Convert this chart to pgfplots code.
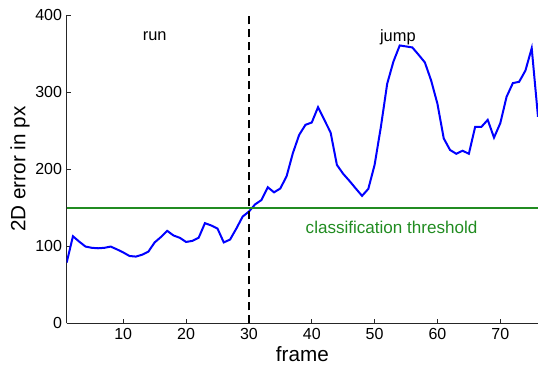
\documentclass[border=0pt]{standalone}
\usepackage{pgfplots}
\pgfplotsset{compat=1.18}
\usepackage{fontspec}
\setmainfont{Liberation Sans}
\definecolor{mgreen}{rgb}{0.13,0.55,0.13}
\begin{document}
\begin{tikzpicture}
\useasboundingbox (-50pt,-30.5pt) rectangle (353.5pt,242.5pt);
\begin{axis}[
  scale only axis,
  width=353.5pt, height=231.2pt,
  xmin=1, xmax=76, ymin=0, ymax=400,
  axis lines=left,
  axis line style={-, black!85, line width=0.6pt},
  tick style={black!85, line width=0.6pt},
  tick align=inside,
  major tick length=3pt,
  xtick={10,20,...,70},
  ytick={0,100,200,300,400},
  tick label style={font=\fontsize{12}{14}\selectfont},
  /pgf/number format/assume math mode=true,
  xlabel={frame},
  ylabel={2D error in px},
  every axis x label/.style={at={(axis description cs:0.5,0)}, anchor=base, yshift=-28.6pt, font=\fontsize{15.5}{18}\selectfont},
  every axis y label/.style={at={(axis description cs:0,0.5)}, xshift=-35pt, rotate=90, anchor=center, font=\fontsize{15.5}{18}\selectfont},
  clip=true,
]
\addplot[blue, line width=1.5pt] coordinates {
(1,78.8) (2,113) (3,106) (4,99.6) (5,98) (6,97.4) (7,98) (8,99.6) (9,96) (10,92)
(11,87.4) (12,86.6) (13,89) (14,93) (15,105) (16,112) (17,120) (18,114) (19,111) (20,105.6)
(21,107) (22,111) (23,130) (24,127) (25,123) (26,105) (27,108.7) (28,123) (29,138.5) (30,145)
(31,154.5) (32,160) (33,176.6) (34,170) (35,175) (36,191) (37,221) (38,244.6) (39,257.6) (40,260.6)
(41,280.5) (42,264) (43,247.6) (44,205.6) (45,194) (46,184.8) (47,175) (48,165.4) (49,174.5) (50,205.6)
(51,255) (52,310.8) (53,339.8) (54,360.6) (55,359.3) (56,358) (57,348.5) (58,338.5) (59,315) (60,284.8)
(61,240) (62,225) (63,220) (64,224) (65,220) (66,255) (67,255) (68,264) (69,241) (70,259.7)
(71,294) (72,311.7) (73,313.4) (74,328) (75,357) (76,268)
};
\addplot[mgreen, line width=1.2pt] coordinates {(1,150) (76,150)};
\addplot[black, line width=1.5pt, dash pattern=on 6pt off 3.75pt] coordinates {(30,0) (30,400)};
\node[anchor=base, font=\fontsize{12.3}{14}\selectfont] at (axis cs:15,367) {run};
\node[anchor=base, font=\fontsize{12.3}{14}\selectfont] at (axis cs:53.7,366) {jump};
\node[anchor=base, text=mgreen, font=\fontsize{12.8}{14}\selectfont] at (axis cs:52.7,117) {classification threshold};
\end{axis}
\end{tikzpicture}
\end{document}
